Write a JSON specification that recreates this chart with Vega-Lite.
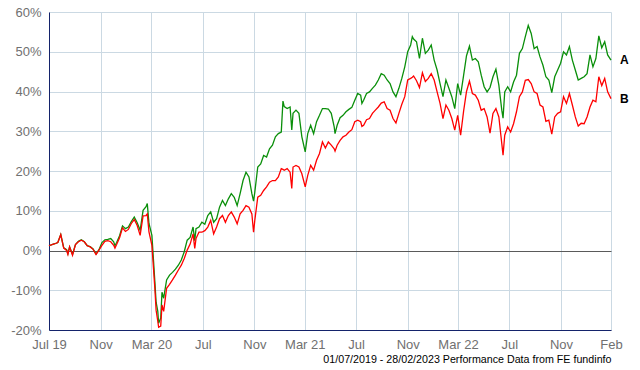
{
"$schema": "https://vega.github.io/schema/vega-lite/v6.json",
"width": 562, "height": 318,
"autosize": {"type": "none"},
"padding": {"left": 49, "top": 12, "right": 29, "bottom": 40},
"background": "white",
"config": {"view": {"stroke": null}, "font": "Liberation Sans"},
"data": {"values": [
{"d":"2019-07-01","A":1.2,"B":1.2},{"d":"2019-07-08","A":1.5,"B":1.5},{"d":"2019-07-15","A":1.7,"B":1.7},{"d":"2019-07-22","A":2.0,"B":2.0},{"d":"2019-07-29","A":4.0,"B":4.0},
{"d":"2019-08-05","A":0.7,"B":0.6},{"d":"2019-08-12","A":0.2,"B":0.0},{"d":"2019-08-15","A":-0.8,"B":-1.0},{"d":"2019-08-19","A":0.9,"B":0.9},{"d":"2019-08-26","A":-1.0,"B":-1.2},
{"d":"2019-09-02","A":1.5,"B":1.5},{"d":"2019-09-09","A":2.3,"B":2.2},{"d":"2019-09-16","A":2.7,"B":2.6},{"d":"2019-09-23","A":2.2,"B":2.2},{"d":"2019-09-30","A":1.2,"B":1.2},
{"d":"2019-10-07","A":1.0,"B":0.9},{"d":"2019-10-14","A":0.4,"B":0.3},{"d":"2019-10-21","A":-0.9,"B":-1.0},{"d":"2019-10-28","A":0.2,"B":0.1},
{"d":"2019-11-04","A":2.0,"B":1.3},{"d":"2019-11-11","A":2.7,"B":2.3},{"d":"2019-11-18","A":2.8,"B":2.5},{"d":"2019-11-25","A":3.0,"B":2.2},
{"d":"2019-12-02","A":2.2,"B":1.3},{"d":"2019-12-05","A":1.2,"B":0.6},{"d":"2019-12-09","A":2.0,"B":1.5},{"d":"2019-12-16","A":3.7,"B":3.2},{"d":"2019-12-23","A":6.2,"B":5.7},{"d":"2019-12-30","A":5.5,"B":4.8},
{"d":"2020-01-06","A":5.9,"B":5.3},{"d":"2020-01-13","A":7.3,"B":6.8},{"d":"2020-01-20","A":8.4,"B":7.8},{"d":"2020-01-27","A":7.0,"B":6.3},
{"d":"2020-02-03","A":5.1,"B":3.8},{"d":"2020-02-10","A":10.1,"B":8.7},{"d":"2020-02-17","A":11.0,"B":8.8},{"d":"2020-02-20","A":11.8,"B":9.2},{"d":"2020-02-24","A":6.8,"B":4.7},
{"d":"2020-03-02","A":3.8,"B":1.3},{"d":"2020-03-09","A":-7.8,"B":-9.5},{"d":"2020-03-12","A":-13.0,"B":-15.0},{"d":"2020-03-16","A":-15.3,"B":-17.8},{"d":"2020-03-18","A":-18.3,"B":-19.3},
{"d":"2020-03-23","A":-17.0,"B":-19.0},{"d":"2020-03-26","A":-10.5,"B":-13.7},{"d":"2020-03-30","A":-12.0,"B":-15.3},
{"d":"2020-04-06","A":-7.4,"B":-9.5},{"d":"2020-04-13","A":-6.2,"B":-8.5},{"d":"2020-04-20","A":-5.5,"B":-7.4},{"d":"2020-04-27","A":-4.7,"B":-6.2},
{"d":"2020-05-04","A":-3.7,"B":-4.9},{"d":"2020-05-11","A":-2.4,"B":-3.7},{"d":"2020-05-18","A":-0.3,"B":-2.0},{"d":"2020-05-25","A":2.6,"B":0.1},
{"d":"2020-06-01","A":3.3,"B":1.6},{"d":"2020-06-08","A":5.9,"B":4.2},{"d":"2020-06-12","A":2.5,"B":0.5},{"d":"2020-06-15","A":5.5,"B":3.0},{"d":"2020-06-22","A":5.9,"B":4.6},{"d":"2020-06-29","A":7.1,"B":4.6},
{"d":"2020-07-06","A":6.6,"B":5.0},{"d":"2020-07-13","A":8.8,"B":5.9},{"d":"2020-07-20","A":9.7,"B":7.6},{"d":"2020-07-27","A":7.1,"B":4.2},
{"d":"2020-08-03","A":8.0,"B":5.9},{"d":"2020-08-10","A":10.9,"B":8.0},{"d":"2020-08-17","A":12.6,"B":8.8},{"d":"2020-08-24","A":11.3,"B":7.1},{"d":"2020-08-31","A":13.0,"B":8.8},
{"d":"2020-09-07","A":14.3,"B":9.7},{"d":"2020-09-14","A":13.4,"B":8.4},{"d":"2020-09-21","A":11.3,"B":6.7},{"d":"2020-09-28","A":14.3,"B":9.2},
{"d":"2020-10-05","A":17.6,"B":10.1},{"d":"2020-10-12","A":19.7,"B":11.3},{"d":"2020-10-19","A":18.5,"B":10.9},{"d":"2020-10-26","A":14.3,"B":9.2},{"d":"2020-10-30","A":12.4,"B":4.6},
{"d":"2020-11-02","A":14.7,"B":7.6},{"d":"2020-11-09","A":21.0,"B":13.4},{"d":"2020-11-16","A":21.8,"B":13.9},{"d":"2020-11-23","A":23.9,"B":15.1},{"d":"2020-11-30","A":23.5,"B":16.0},
{"d":"2020-12-07","A":25.6,"B":17.2},{"d":"2020-12-14","A":26.5,"B":17.6},{"d":"2020-12-21","A":28.6,"B":17.6},{"d":"2020-12-28","A":29.4,"B":18.5},
{"d":"2021-01-04","A":29.8,"B":20.6},{"d":"2021-01-08","A":37.6,"B":20.4},{"d":"2021-01-11","A":36.2,"B":20.2},{"d":"2021-01-18","A":35.7,"B":20.6},{"d":"2021-01-25","A":36.1,"B":19.7},{"d":"2021-01-29","A":30.3,"B":15.6},
{"d":"2021-02-01","A":34.5,"B":21.0},{"d":"2021-02-08","A":35.3,"B":21.4},{"d":"2021-02-15","A":34.5,"B":21.0},{"d":"2021-02-22","A":28.6,"B":19.3},
{"d":"2021-03-02","A":24.8,"B":16.0},{"d":"2021-03-08","A":29.4,"B":18.9},{"d":"2021-03-15","A":31.5,"B":21.4},{"d":"2021-03-22","A":29.4,"B":20.2},{"d":"2021-03-29","A":32.4,"B":22.7},
{"d":"2021-04-05","A":34.0,"B":24.4},{"d":"2021-04-12","A":35.7,"B":27.3},{"d":"2021-04-19","A":35.7,"B":25.8},{"d":"2021-04-26","A":35.6,"B":27.3},
{"d":"2021-05-03","A":34.5,"B":26.5},{"d":"2021-05-10","A":31.1,"B":25.6},{"d":"2021-05-12","A":29.4,"B":25.0},{"d":"2021-05-17","A":31.5,"B":26.5},{"d":"2021-05-24","A":33.4,"B":27.7},{"d":"2021-05-31","A":34.0,"B":28.6},
{"d":"2021-06-07","A":34.9,"B":29.0},{"d":"2021-06-14","A":35.5,"B":29.8},{"d":"2021-06-21","A":36.0,"B":30.4},{"d":"2021-06-28","A":37.8,"B":32.4},
{"d":"2021-07-05","A":39.5,"B":32.8},{"d":"2021-07-12","A":39.1,"B":32.4},{"d":"2021-07-15","A":37.0,"B":31.2},{"d":"2021-07-19","A":37.8,"B":31.5},{"d":"2021-07-26","A":39.5,"B":32.9},
{"d":"2021-08-02","A":39.9,"B":33.2},{"d":"2021-08-09","A":40.8,"B":34.5},{"d":"2021-08-16","A":41.6,"B":35.3},{"d":"2021-08-23","A":42.9,"B":36.1},{"d":"2021-08-30","A":44.5,"B":37.1},
{"d":"2021-09-06","A":44.1,"B":37.4},{"d":"2021-09-13","A":42.9,"B":35.7},{"d":"2021-09-20","A":42.0,"B":35.3},{"d":"2021-09-27","A":39.9,"B":33.2},
{"d":"2021-10-04","A":38.7,"B":32.1},{"d":"2021-10-11","A":40.8,"B":34.5},{"d":"2021-10-18","A":43.3,"B":36.8},{"d":"2021-10-25","A":46.2,"B":38.7},
{"d":"2021-11-01","A":50.0,"B":42.9},{"d":"2021-11-08","A":51.7,"B":43.3},{"d":"2021-11-12","A":53.8,"B":43.6},{"d":"2021-11-15","A":53.2,"B":43.9},{"d":"2021-11-22","A":52.5,"B":42.7},{"d":"2021-11-29","A":48.3,"B":41.0},
{"d":"2021-12-06","A":53.4,"B":44.7},{"d":"2021-12-13","A":49.6,"B":42.5},{"d":"2021-12-20","A":50.4,"B":43.3},{"d":"2021-12-27","A":51.7,"B":44.5},
{"d":"2022-01-03","A":47.9,"B":42.9},{"d":"2022-01-10","A":45.4,"B":39.9},{"d":"2022-01-17","A":42.0,"B":37.0},{"d":"2022-01-24","A":38.7,"B":33.2},{"d":"2022-01-31","A":42.9,"B":36.6},
{"d":"2022-02-07","A":40.8,"B":35.3},{"d":"2022-02-14","A":38.7,"B":33.2},{"d":"2022-02-21","A":35.7,"B":30.3},{"d":"2022-02-28","A":42.0,"B":34.0},
{"d":"2022-03-07","A":39.1,"B":29.0},{"d":"2022-03-14","A":44.0,"B":35.0},{"d":"2022-03-21","A":49.0,"B":40.0},{"d":"2022-03-28","A":51.4,"B":42.6},
{"d":"2022-04-04","A":47.9,"B":39.5},{"d":"2022-04-11","A":48.3,"B":39.1},{"d":"2022-04-18","A":47.5,"B":37.8},{"d":"2022-04-25","A":44.1,"B":35.3},
{"d":"2022-05-02","A":41.2,"B":35.7},{"d":"2022-05-09","A":39.9,"B":33.6},{"d":"2022-05-16","A":41.0,"B":29.5},{"d":"2022-05-23","A":43.7,"B":34.5},{"d":"2022-05-30","A":45.6,"B":35.7},
{"d":"2022-06-06","A":41.6,"B":33.6},{"d":"2022-06-13","A":35.3,"B":26.9},{"d":"2022-06-16","A":33.3,"B":24.0},{"d":"2022-06-20","A":39.9,"B":29.0},{"d":"2022-06-27","A":41.2,"B":31.1},
{"d":"2022-07-04","A":39.9,"B":29.8},{"d":"2022-07-11","A":42.4,"B":31.9},{"d":"2022-07-18","A":44.1,"B":34.9},{"d":"2022-07-25","A":49.6,"B":38.7},
{"d":"2022-08-01","A":50.8,"B":39.9},{"d":"2022-08-08","A":53.8,"B":42.8},{"d":"2022-08-15","A":56.6,"B":43.0},{"d":"2022-08-22","A":54.6,"B":42.0},{"d":"2022-08-29","A":50.8,"B":39.9},
{"d":"2022-09-05","A":51.3,"B":39.5},{"d":"2022-09-12","A":48.7,"B":36.6},{"d":"2022-09-19","A":46.6,"B":36.1},{"d":"2022-09-26","A":43.7,"B":32.5},
{"d":"2022-10-03","A":42.9,"B":32.8},{"d":"2022-10-10","A":39.7,"B":29.3},{"d":"2022-10-17","A":43.7,"B":33.6},{"d":"2022-10-24","A":45.4,"B":34.5},{"d":"2022-10-31","A":47.1,"B":34.9},
{"d":"2022-11-07","A":50.0,"B":38.7},{"d":"2022-11-14","A":49.2,"B":37.0},{"d":"2022-11-21","A":51.3,"B":39.5},{"d":"2022-11-28","A":47.9,"B":36.6},
{"d":"2022-12-05","A":45.4,"B":33.6},{"d":"2022-12-12","A":42.9,"B":31.3},{"d":"2022-12-19","A":43.3,"B":32.0},{"d":"2022-12-26","A":43.7,"B":31.9},
{"d":"2023-01-02","A":44.5,"B":33.6},{"d":"2023-01-09","A":49.2,"B":36.1},{"d":"2023-01-16","A":46.2,"B":37.8},{"d":"2023-01-23","A":48.3,"B":37.4},{"d":"2023-01-30","A":54.0,"B":43.7},
{"d":"2023-02-06","A":51.0,"B":41.5},{"d":"2023-02-13","A":52.5,"B":43.3},{"d":"2023-02-20","A":49.2,"B":39.9},{"d":"2023-02-28","A":47.9,"B":38.2}
]},
"transform": [{"fold": ["A", "B"], "as": ["s", "v"]}],
"encoding": {
  "x": {"field": "d", "type": "temporal",
   "scale": {"type": "utc", "domain": [{"year": 2019, "month": 7, "date": 1, "utc": true}, {"year": 2023, "month": 2, "date": 28, "utc": true}]},
   "axis": {
    "values": [
     {"year": 2019, "month": 7, "date": 1, "utc": true},
     {"year": 2019, "month": 11, "date": 1, "utc": true},
     {"year": 2020, "month": 3, "date": 1, "utc": true},
     {"year": 2020, "month": 7, "date": 1, "utc": true},
     {"year": 2020, "month": 11, "date": 1, "utc": true},
     {"year": 2021, "month": 3, "date": 1, "utc": true},
     {"year": 2021, "month": 7, "date": 1, "utc": true},
     {"year": 2021, "month": 11, "date": 1, "utc": true},
     {"year": 2022, "month": 3, "date": 1, "utc": true},
     {"year": 2022, "month": 7, "date": 1, "utc": true},
     {"year": 2022, "month": 11, "date": 1, "utc": true},
     {"year": 2023, "month": 2, "date": 28, "utc": true}
    ],
    "labelExpr": "utcmonth(datum.value) == 2 || (utcmonth(datum.value) == 6 && utcyear(datum.value) == 2019) ? utcFormat(datum.value, '%b %y') : utcFormat(datum.value, '%b')",
    "title": "01/07/2019 - 28/02/2023 Performance Data from FE fundinfo",
    "titleAnchor": "end", "titleFontSize": 10.7, "titleFontWeight": "normal", "titleColor": "#000000", "titlePadding": 3, "titleFont": "Liberation Sans",
    "ticks": false, "labelPadding": 8, "labelFontSize": 13, "labelColor": "#707070", "labelFont": "Liberation Sans",
    "labelFlush": false, "labelOverlap": false, "labelBound": false,
    "domainColor": "#14236b", "domainWidth": 1, "grid": true, "gridColor": "#cbd9e3", "gridWidth": 1}},
  "y": {"field": "v", "type": "quantitative",
   "scale": {"domain": [-20, 60], "nice": false, "zero": false},
   "axis": {"values": [-20, -10, 0, 10, 20, 30, 40, 50, 60], "labelExpr": "datum.value + '%'", "title": null,
    "ticks": false, "labelPadding": 8, "labelFontSize": 13, "labelColor": "#707070", "labelFont": "Liberation Sans", "labelOverlap": false,
    "domainColor": "#14236b", "domainWidth": 1, "grid": true,
    "gridColor": {"condition": {"test": "datum.value === 0", "value": "#5a5a5a"}, "value": "#cbd9e3"}, "gridWidth": 1}}
},
"layer": [
{"transform": [{"filter": "datum.s == 'A'"}],
 "mark": {"type": "line", "color": "#0a8f0a", "strokeWidth": 1.3}},
{"transform": [{"filter": "datum.s == 'B'"}],
 "mark": {"type": "line", "color": "#ff0000", "strokeWidth": 1.3}},
{"transform": [{"filter": "utcyear(datum.d) == 2023 && utcmonth(datum.d) == 1 && utcdate(datum.d) == 28"}],
 "mark": {"type": "text", "align": "left", "baseline": "middle", "dx": 9, "fontSize": 12, "fontWeight": "bold", "font": "Liberation Sans", "color": "#000000"},
 "encoding": {"text": {"field": "s", "type": "nominal"}}}
]
}
